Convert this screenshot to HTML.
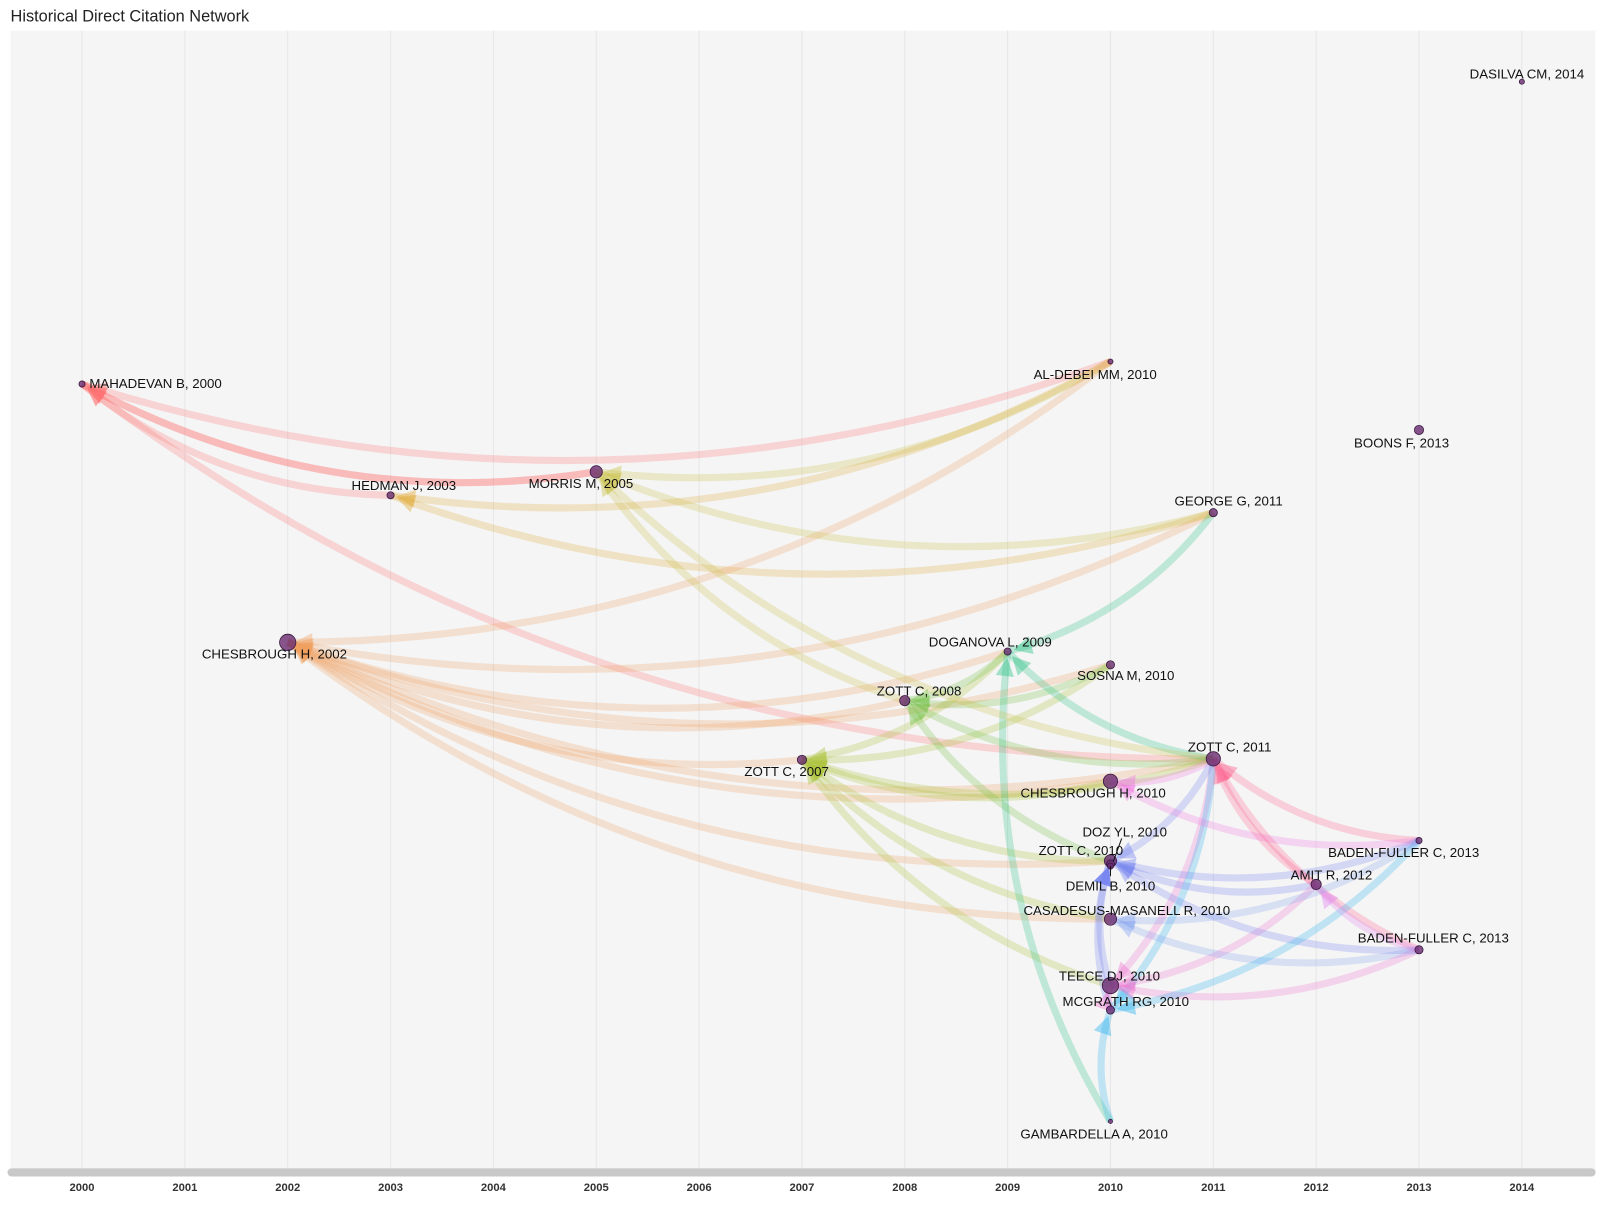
<!DOCTYPE html>
<html><head><meta charset="utf-8"><style>
body{margin:0;background:#fff;font-family:"Liberation Sans",Arial,sans-serif}
svg text{font-family:"Liberation Sans",Arial,sans-serif}
</style></head><body>
<svg id="chart" width="1600" height="1200" viewBox="0 0 1566 1175" xmlns="http://www.w3.org/2000/svg">
<text x="10" y="21" font-size="16" fill="#222">Historical Direct Citation Network</text>
<rect x="10" y="30" width="1552" height="1117" fill="#f5f5f5"/>
<g id="grid"></g>
<rect x="7" y="1144" width="1555" height="8" rx="4" fill="#c8c8c8"/>
<g id="ticks"></g>
<g id="edges"></g>
<g id="nodes"></g>
<g id="labels"></g>
</svg>
<script>
const years=[2000,2001,2002,2003,2004,2005,2006,2007,2008,2009,2010,2011,2012,2013,2014];
const nodeLabels=["MAHADEVAN B, 2000","CHESBROUGH H, 2002","HEDMAN J, 2003","MORRIS M, 2005","ZOTT C, 2007","ZOTT C, 2008","DOGANOVA L, 2009","AL-DEBEI MM, 2010","SOSNA M, 2010","CHESBROUGH H, 2010","ZOTT C, 2010","DOZ YL, 2010","DEMIL B, 2010","CASADESUS-MASANELL R, 2010","TEECE DJ, 2010","MCGRATH RG, 2010","GAMBARDELLA A, 2010","ZOTT C, 2011","GEORGE G, 2011","AMIT R, 2012","BADEN-FULLER C, 2013","BADEN-FULLER C, 2013","BOONS F, 2013","DASILVA CM, 2014"];
const nodeYears=[2000,2002,2003,2005,2007,2008,2009,2010,2010,2010,2010,2010,2010,2010,2010,2010,2010,2011,2011,2012,2013,2013,2013,2014];
const nodeRank=[376,629,485,462,744,686,638,354,651,765,843,846,848,900,965,989,1098,743,502,866,823,930,421,80];
const nodeSize=[3,8,3.5,6,4.5,5,3.5,2.5,4,7,6,4,3,6,8,4,2,7,4,5,3,4,4.5,2.5];
const nodeColor=["#ff7070","#f0a060","#e0a830","#c8c040","#a8c030","#70c040","#20c080","#e0a030","#40c8e8","#f070e0","#7080f0","#8090f0","#a0a0f0","#80a0f0","#f070d0","#20b0f0","#20c0b0","#ff5a8a","#80c050","#e080f0","#60c8e0","#c0a0f0","#a080c0","#a080c0"];
const labelDx=[72,-13,13,-15,-15,14,-17,-15,15,-17,-29,14,0,16,-1,15,-16,16,15,15,-15,14,-17,5];
const labelDy=[4,16,-5,16,16,-5,-5,17,15,16,-6,-27,24,-4,-5,-4,17,-7,-7,-5,16,-7,17,-3];
const edgeFrom=[3,2,7,17,18,7,7,7,18,6,8,17,9,10,13,5,4,5,6,8,17,10,14,13,9,8,17,10,6,18,17,16,17,17,17,17,19,19,20,20,20,21,21,21,21,20,19,14,15,16,11,12,21,20,18,17,15,3];
const edgeTo  =[0,0,0,0,2,3,2,1,1,1,1,1,1,1,1,1,1,3,4,4,4,4,4,4,4,5,5,5,5,6,6,6,10,9,14,15,10,14,17,10,9,17,13,14,10,15,17,10,10,15,10,10,19,13,3,3,14,0];
const x=y=>80+(y-2000)*100.7;
const NS="http://www.w3.org/2000/svg";
function mk(t,a,p){const e=document.createElementNS(NS,t);for(const k in a)e.setAttribute(k,a[k]);p.appendChild(e);return e;}
const grid=document.getElementById('grid'),ticks=document.getElementById('ticks');
years.forEach(y=>{
 const l=mk('line',{x1:x(y),x2:x(y),y1:30,y2:1145,stroke:'#e6e6e6','stroke-width':1},grid);
 
 
 const t=mk('text',{x:x(y),y:1166,'text-anchor':'middle','font-size':11,'font-weight':'bold',fill:'#333'},ticks);
 t.textContent=y;
 
 
});
const eg=document.getElementById('edges');
edgeFrom.forEach((s,i)=>{
 const t=edgeTo[i];
 const sx=x(nodeYears[s]),sy=nodeRank[s],tx=x(nodeYears[t]),ty=nodeRank[t];
 const dx=tx-sx,dy=ty-sy;
 const k=0.17;
 const cx=(sx+tx)/2+dy*k,cy=(sy+ty)/2-dx*k;
 const col=nodeColor[t];
 const p=mk('path',{d:`M${sx},${sy} Q${cx},${cy} ${tx},${ty}`,fill:'none',stroke:col,'stroke-width':7,'stroke-opacity':0.25},eg);
 
 
 let vx=tx-cx,vy=ty-cy;const vl=Math.hypot(vx,vy)||1;vx/=vl;vy/=vl;
 const bx=tx-vx*6,by=ty-vy*6,b2x=tx-vx*24,b2y=ty-vy*24;
 const ar=mk('polygon',{points:`${bx},${by} ${b2x-vy*9},${b2y+vx*9} ${b2x+vy*9},${b2y-vx*9}`,fill:col,'fill-opacity':0.4},eg);
 
 
});
const ng=document.getElementById('nodes'),lg=document.getElementById('labels');
nodeLabels.forEach((lab,i)=>{
 const cx=x(nodeYears[i]),cy=nodeRank[i];
 const c=mk('circle',{cx:cx,cy:cy,r:nodeSize[i],fill:'#6a2c70','fill-opacity':0.8,stroke:'#3a1a40','stroke-width':0.8},ng);
 
 
 const t=mk('text',{x:cx+labelDx[i],y:cy+labelDy[i],'text-anchor':'middle','font-size':13,fill:'#111'},lg);
 t.textContent=lab;
 
 
});
mk('line',{x1:1090,y1:843,x2:1098,y2:821,stroke:'#111','stroke-width':1},lg);
mk('line',{x1:1087,y1:848,x2:1087,y2:858,stroke:'#111','stroke-width':1},lg);
</script>
</body></html>
